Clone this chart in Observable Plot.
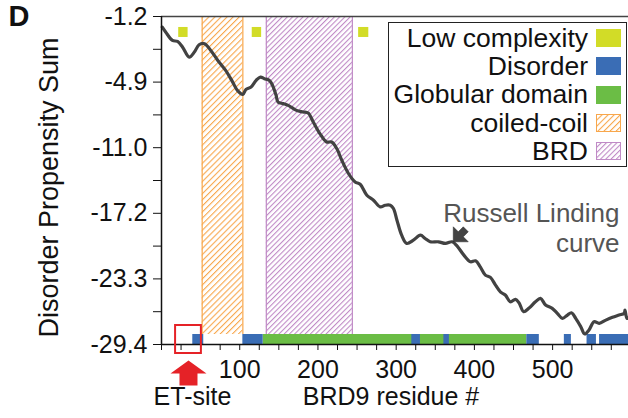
<!DOCTYPE html>
<html><head><meta charset="utf-8">
<script src="https://cdn.jsdelivr.net/npm/d3@7"></script>
<script src="https://cdn.jsdelivr.net/npm/@observablehq/plot@0.6"></script>
<style>
html,body{margin:0;padding:0;background:#fff;}
#wrap{position:relative;width:628px;height:418px;overflow:hidden;font-family:"Liberation Sans",Arial,sans-serif;}
#legend{position:absolute;left:388px;top:22px;width:239px;height:145px;box-sizing:border-box;border:1.5px solid #222;background:#fff;padding-top:1px;}
.row{display:flex;justify-content:flex-end;align-items:center;height:28.3px;padding-right:5px;}
.row span{font-size:26.5px;line-height:1;margin-right:8px;color:#111;white-space:nowrap;}
.sw{width:25px;height:18px;box-sizing:border-box;display:block;flex:none;}
</style></head>
<body>
<div id="wrap"></div>
<script>
// ---- data ----
const curveResidue = [1,5.5,14,20.5,27,35.5,42,48,55,63,
  72,82,91,97,104,108,114.5,121,126.5,131.5,
  138,142,146.5,149,155.5,162,172.5,181,187.5,194,
  202.5,211,217.5,224,230.5,239,247.5,254,262.5,271,
  279.5,286,292.5,296.5,301,307,313.5,322,331,337,
  343.5,354,363,371.5,378,386.5,395,401.5,407.5,414,
  420.5,427,433.5,439.5,446,452.5,457,463,469.5,478,
  484.5,491,499.5,506,512.5,519,524,529.5,536,541,
  546.5,553,559.5,568,576.5,585,591.5,592.5,595,597];
const curveValue = [0.11,-0.36,-1.13,-1.22,-1.75,-2.68,-2.21,-1.53,-1.43,-2.06,
  -2.99,-3.91,-5.00,-5.77,-6.14,-5.68,-5.46,-4.84,-4.53,-4.68,
  -4.84,-5.31,-6.23,-6.86,-7.00,-7.16,-7.63,-7.78,-7.88,-8.71,
  -9.79,-10.57,-10.57,-11.18,-12.27,-13.50,-14.28,-14.50,-15.52,-15.98,
  -16.60,-16.45,-16.45,-16.75,-17.84,-19.23,-20.00,-19.70,-19.23,-19.54,
  -19.85,-19.85,-20.00,-19.85,-20.25,-21.09,-21.71,-21.62,-22.18,-22.95,
  -23.16,-23.88,-24.53,-24.80,-25.43,-25.20,-25.52,-26.35,-26.04,-25.43,
  -25.11,-25.73,-26.04,-26.50,-26.97,-26.66,-26.45,-26.97,-27.75,-28.42,
  -28.05,-27.28,-27.43,-27.13,-26.87,-26.66,-26.50,-26.20,-26.97,-26.92];
const lowComplexity = [[22,34],[116,128],[252,265]];
const disorder = [[40,54],[104,130],[320,331],[361,368],[467,483],[515,524],[544,556],[560,597]];
const globular = [[130,467]];
const coiledCoil = [[52,104]];
const brd = [[134,244]];
const etSite = [[18,51]];
const russellPoint = [[373,-19.85]];
const yTicks = [-29.4,-23.3,-17.2,-11.1,-5.0,1.1];
const yTickLabels = ["-29.4","-23.3","-17.2","-11.0","-4.9","-1.2"];
const yMinorTicks = [-26.35,-20.25,-14.15,-8.05,-1.95];
const xTicks = d3.range(0, 598, 25);
const xTickLabels = [100,200,300,400,500];
const legendLabels = ["Low complexity","Disorder","Globular domain","coiled-coil","BRD"];

// ---- styles ----
const C = {lc:"#D2DC27", dis:"#3A6DB5", glob:"#6BBD45", cc:"#F8A74C", brd:"#C08AC6", line:"#424242"};
const yMin = -29.4, yMax = 1.1, barTop = -28.47, lcTop = 0.08, lcBottom = -0.85;

const curve = curveResidue.map((r, i) => ({r, v: curveValue[i]}));
const tickLabelMap = new Map(yTicks.map((t, i) => [t, yTickLabels[i]]));
const xLabelSet = new Set(xTickLabels);
const edges = arr => arr.flat();

const upArrow = {draw(ctx) {
  ctx.moveTo(0,0); ctx.lineTo(18,13); ctx.lineTo(9,13); ctx.lineTo(9,25);
  ctx.lineTo(-9,25); ctx.lineTo(-9,13); ctx.lineTo(-18,13); ctx.closePath();
}};
const pointer = {draw(ctx) {
  ctx.moveTo(0,0); ctx.lineTo(0,-15); ctx.lineTo(5,-10); ctx.lineTo(10,-15);
  ctx.lineTo(15,-10); ctx.lineTo(10,-5); ctx.lineTo(15,0); ctx.closePath();
}};

const chart = Plot.plot({
  width: 628, height: 418,
  marginLeft: 161, marginRight: 0, marginTop: 16, marginBottom: 74,
  x: {domain: [0, 597]},
  y: {domain: [yMin, yMax]},
  style: {fontFamily: "'Liberation Sans', Arial, sans-serif", fontSize: "25px", color: "#111", background: "white", overflow: "visible"},
  marks: [
    Plot.rect(coiledCoil, {x1: d => d[0], x2: d => d[1], y1: barTop, y2: yMax, fill: "url(#ccHatch)"}),
    Plot.ruleX(edges(coiledCoil), {y1: barTop, y2: yMax, stroke: C.cc, strokeWidth: 1.2}),
    Plot.rect(brd, {x1: d => d[0], x2: d => d[1], y1: barTop, y2: yMax, fill: "url(#brdHatch)"}),
    Plot.ruleX(edges(brd), {y1: barTop, y2: yMax, stroke: C.brd, strokeWidth: 1.2}),
    Plot.rect(lowComplexity, {x1: d => d[0], x2: d => d[1], y1: lcBottom, y2: lcTop, fill: C.lc}),
    Plot.rect(globular, {x1: d => d[0], x2: d => d[1], y1: yMin, y2: barTop, fill: C.glob}),
    Plot.rect(disorder, {x1: d => d[0], x2: d => d[1], y1: yMin, y2: barTop, fill: C.dis}),
    Plot.line(curve, {x: "r", y: "v", stroke: C.line, strokeWidth: 3.2, curve: "catmull-rom"}),
    Plot.ruleY([yMax], {stroke: "#444", strokeWidth: 1.5}),
    Plot.ruleY([yMin], {stroke: "#111", strokeWidth: 1.5}),
    Plot.ruleX([0], {y1: yMin, y2: yMax, stroke: "#111", strokeWidth: 1.5}),
    Plot.axisY(yTicks, {tickFormat: d => tickLabelMap.get(d), tickSize: 8, tickPadding: 6, fontSize: 25, label: null}),
    Plot.axisY(yMinorTicks, {tickFormat: () => "", tickSize: 8, label: null}),
    Plot.axisX(xTicks, {tickFormat: d => xLabelSet.has(d) ? String(d) : "", tickSize: 6, tickPadding: 10, fontSize: 25, label: null}),
    Plot.rect(etSite, {x1: d => d[0], x2: d => d[1], y1: yMin, y2: yMin, insetTop: -19, insetBottom: -9, fill: "none", stroke: "#E52227", strokeWidth: 2}),
    Plot.dot(etSite, {x: d => (d[0] + d[1]) / 2, y: yMin, dy: 16, symbol: upArrow, r: 10, fill: "#E52227", stroke: "none"}),
    Plot.text(etSite, {x: d => (d[0] + d[1]) / 2, y: yMin, text: () => "ET-site", dx: 4, dy: 43, lineAnchor: "top", fontSize: 25, fill: "#111"}),
    Plot.text(["BRD9 residue #"], {frameAnchor: "bottom", dx: -4, dy: 43, lineAnchor: "top", fontSize: 25, fill: "#111"}),
    Plot.text(["Disorder Propensity Sum"], {frameAnchor: "left", rotate: -90, dx: -112, dy: 7, fontSize: 27, textAnchor: "middle", lineAnchor: "middle", fill: "#111"}),
    Plot.text(["D"], {frameAnchor: "top-left", dx: -153, dy: -11, fontSize: 29, fontWeight: "bold", textAnchor: "start", lineAnchor: "top", fill: "#111"}),
    Plot.dot(russellPoint, {x: d => d[0], y: d => d[1], symbol: pointer, r: 8, fill: "#444", stroke: "#222", strokeWidth: 0.5}),
    Plot.text(["Russell Linding\ncurve"], {frameAnchor: "top-right", dx: -9, dy: 184, textAnchor: "end", lineAnchor: "top", lineHeight: 1.15, fontSize: 26, fill: "#555"})
  ]
});

// hatch patterns inside the chart's own SVG
const patternDefs = (id, color, size) =>
  `<pattern id="${id}" patternUnits="userSpaceOnUse" width="${size}" height="${size}" patternTransform="rotate(45)">` +
  `<rect x="0" y="0" width="1.1" height="${size}" fill="${color}"/></pattern>`;
d3.select(chart).insert("defs", ":first-child")
  .html(patternDefs("ccHatch", C.cc, 4.3) + patternDefs("brdHatch", C.brd, 3.7));

const wrap = document.getElementById("wrap");
wrap.appendChild(chart);

// legend
const legend = document.createElement("div");
legend.id = "legend";
const swatchFor = [
  `<span class="sw" style="background:${C.lc};margin:0"></span>`,
  `<span class="sw" style="background:${C.dis};margin:0"></span>`,
  `<span class="sw" style="background:${C.glob};margin:0"></span>`,
  `<svg class="sw" width="25" height="18"><rect x="0.5" y="0.5" width="24" height="17" fill="url(#ccHatch)" stroke="${C.cc}" stroke-width="1"/></svg>`,
  `<svg class="sw" width="25" height="18"><rect x="0.5" y="0.5" width="24" height="17" fill="url(#brdHatch)" stroke="${C.brd}" stroke-width="1"/></svg>`
];
legendLabels.forEach((lab, i) => {
  const row = document.createElement("div");
  row.className = "row";
  row.innerHTML = `<span>${lab}</span>${swatchFor[i]}`;
  legend.appendChild(row);
});
wrap.appendChild(legend);
</script>
</body></html>
